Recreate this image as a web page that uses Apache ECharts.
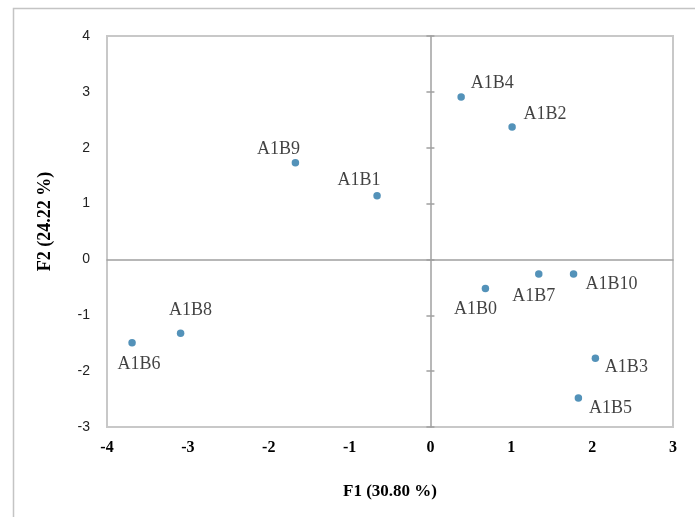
<!DOCTYPE html>
<html>
<head>
<meta charset="utf-8">
<script src="https://cdn.jsdelivr.net/npm/echarts@6/dist/echarts.min.js"></script>
<style>
html,body{margin:0;padding:0;background:#fff;}
#chart{width:695px;height:517px;}
</style>
</head>
<body>
<div id="chart"></div>
<script>
// Data
const names = ['A1B9','A1B1','A1B4','A1B2','A1B8','A1B6','A1B0','A1B7','A1B10','A1B3','A1B5'];
const f1Values = [-1.67, -0.66, 0.38, 1.01, -3.09, -3.69, 0.68, 1.34, 1.77, 2.04, 1.83];
const f2Values = [1.73, 1.14, 2.91, 2.37, -1.32, -1.49, -0.52, -0.26, -0.26, -1.77, -2.48];
const xTicks = [-4, -3, -2, -1, 0, 1, 2, 3];
const yTicks = [-3, -2, -1, 0, 1, 2, 3, 4];
const xAxisTitle = 'F1 (30.80 %)';
const yAxisTitle = 'F2 (24.22 %)';

// Label placement (style, pixel offsets from the point)
const labelOffsets = [[-17,-14],[-18,-15],[31,-14],[33,-13],[10,-23],[7,22],[-10,21],[-5,22],[38,10],[31,9],[32,10]];

const chart = echarts.init(document.getElementById('chart'));
const points = names.map((n, i) => ({
  value: [f1Values[i], f2Values[i]],
  name: n,
  label: { offset: labelOffsets[i] }
}));

const xMin = xTicks[0], xMax = xTicks[xTicks.length-1];
const yMin = yTicks[0], yMax = yTicks[yTicks.length-1];

chart.setOption({
  animation: false,
  backgroundColor: '#fff',
  graphic: [{
    type: 'rect',
    shape: { x: 13.5, y: 8.5, width: 800, height: 700 },
    style: { fill: 'none', stroke: '#c4c4c4', lineWidth: 1.5 },
    silent: true
  }],
  grid: {
    left: 107, top: 36, width: 566, height: 391,
    show: true, borderColor: '#c8c8c8', borderWidth: 2, backgroundColor: '#fff'
  },
  xAxis: [{
    type: 'value', min: xMin, max: xMax, interval: 1, position: 'bottom',
    axisLine: { show: false, onZero: false }, axisTick: { show: false }, splitLine: { show: false },
    axisLabel: { margin: 13, color: '#000', fontFamily: 'Liberation Serif', fontWeight: 'bold', fontSize: 16 },
    name: xAxisTitle, nameLocation: 'middle', nameGap: 56,
    nameTextStyle: { fontFamily: 'Liberation Serif', fontWeight: 'bold', fontSize: 17, color: '#000' }
  }, {
    type: 'value', min: xMin, max: xMax, interval: 1, position: 'bottom',
    axisLine: { show: true, onZero: true, lineStyle: { color: '#a0a0a0', width: 1.5 } },
    axisTick: { show: false }, axisLabel: { show: false }, splitLine: { show: false }
  }],
  yAxis: [{
    type: 'value', min: yMin, max: yMax, interval: 1, position: 'left',
    axisLine: { show: false, onZero: false }, axisTick: { show: false }, splitLine: { show: false },
    axisLabel: { margin: 17, color: '#222', fontFamily: 'Liberation Sans', fontSize: 14 },
    name: yAxisTitle, nameLocation: 'middle', nameGap: 53, nameRotate: 90,
    nameTextStyle: { fontFamily: 'Liberation Serif', fontWeight: 'bold', fontSize: 18, color: '#000', padding: [0, 0, 0, 20] }
  }, {
    type: 'value', min: yMin, max: yMax, interval: 1, position: 'left',
    axisLine: { show: true, onZero: true, lineStyle: { color: '#a0a0a0', width: 1.5 } },
    axisTick: { show: true, inside: true, length: 4, lineStyle: { color: '#a0a0a0', width: 1.5 } },
    axisLabel: { show: false }, splitLine: { show: false }
  }, {
    type: 'value', min: yMin, max: yMax, interval: 1, position: 'left',
    axisLine: { show: false, onZero: true },
    axisTick: { show: true, inside: false, length: 4, lineStyle: { color: '#a0a0a0', width: 1.5 } },
    axisLabel: { show: false }, splitLine: { show: false }
  }],
  series: [{
    type: 'scatter',
    xAxisIndex: 0, yAxisIndex: 0,
    symbol: 'circle', symbolSize: 7.5,
    itemStyle: { color: '#2877a8' },
    label: {
      show: true, position: 'inside', formatter: '{b}',
      fontFamily: 'Liberation Serif', fontSize: 18, color: '#111'
    },
    data: points
  }]
});
</script>
</body>
</html>
